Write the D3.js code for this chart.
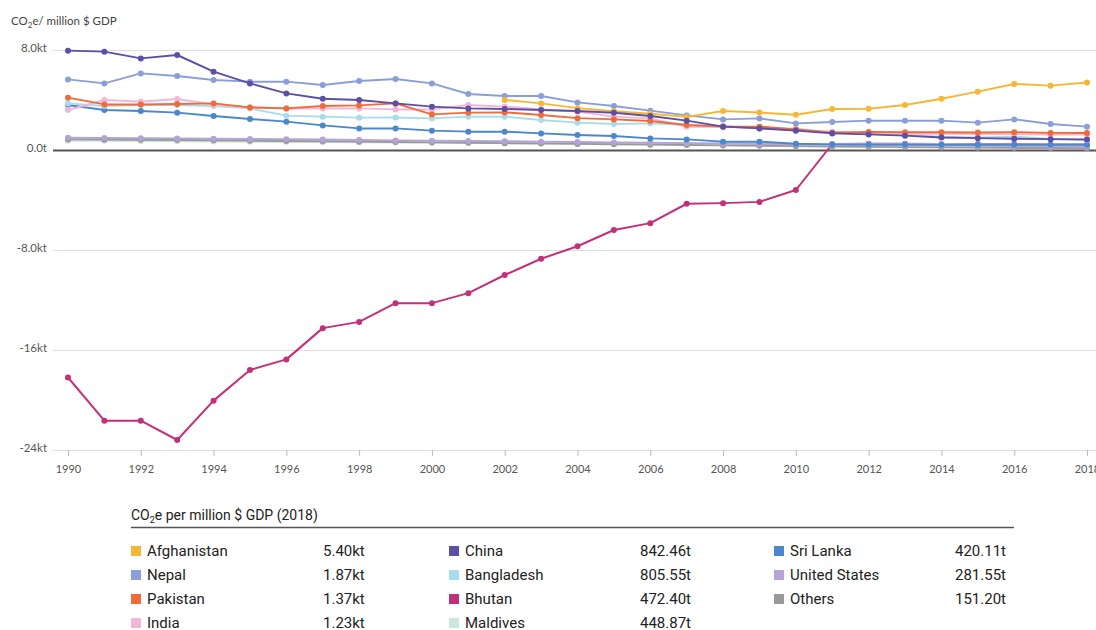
<!DOCTYPE html>
<html><head><meta charset="utf-8">
<script src="https://cdn.jsdelivr.net/npm/d3@7"></script>
<style>
html,body{margin:0;padding:0;background:#fff;}
svg{display:block;}
</style></head>
<body>
<svg id="chart" width="1096" height="630"></svg>
<script>
const years = d3.range(1990, 2019);
const yTicks = [8, 0, -8, -16, -24];
const yTickLabels = ["8.0kt", "0.0t", "-8.0kt", "-16kt", "-24kt"];
const xTicks = d3.range(1990, 2019, 2);

const countries = ["Afghanistan","Nepal","Pakistan","India","China","Bangladesh","Bhutan","Maldives","Sri Lanka","United States","Others"];
const colors = ["#f5b836","#8a9fd8","#ef6b3a","#f2b6d6","#5e4fa6","#a9dceb","#c2307a","#c9e7da","#4a87cb","#b3a3d7","#999999"];
const legendValues = ["5.40kt","1.87kt","1.37kt","1.23kt","842.46t","805.55t","472.40t","448.87t","420.11t","281.55t","151.20t"];

const afghanistan = [null,null,null,null,null,null,null,null,null,null,null,null,4.0,3.73,3.35,3.1,2.9,2.65,3.12,3.0,2.82,3.28,3.3,3.6,4.1,4.67,5.28,5.15,5.4];
const nepal = [5.65,5.33,6.13,5.92,5.6,5.47,5.47,5.2,5.52,5.68,5.33,4.48,4.32,4.32,3.81,3.52,3.15,2.77,2.45,2.53,2.13,2.24,2.35,2.35,2.35,2.19,2.45,2.08,1.87];
const pakistan = [4.19,3.65,3.65,3.68,3.73,3.41,3.33,3.52,3.57,3.73,2.85,2.99,3.01,2.8,2.55,2.45,2.32,2.0,1.87,1.87,1.65,1.39,1.45,1.42,1.42,1.4,1.42,1.37,1.37];
const india = [3.2,4.0,3.87,4.08,3.65,3.41,3.33,3.33,3.33,3.25,3.25,3.6,3.47,3.25,3.07,2.67,2.53,1.87,1.87,1.73,1.6,1.47,1.35,1.3,1.3,1.28,1.25,1.25,1.23];
const china = [7.95,7.87,7.33,7.6,6.27,5.33,4.53,4.1,4.0,3.73,3.47,3.33,3.28,3.2,3.12,2.98,2.72,2.35,1.87,1.73,1.55,1.33,1.25,1.15,1.0,0.95,0.9,0.87,0.84];
const bangladesh = [3.73,3.52,3.6,3.6,3.52,3.33,2.75,2.67,2.59,2.6,2.53,2.67,2.67,2.4,2.19,2.08,2.13,2.0,1.92,1.73,1.73,1.39,1.28,1.2,1.07,1.01,1.07,0.88,0.81];
const bhutan = [-18.2,-21.65,-21.65,-23.2,-20.05,-17.6,-16.75,-14.25,-13.75,-12.25,-12.25,-11.45,-10.0,-8.7,-7.7,-6.4,-5.85,-4.3,-4.25,-4.15,-3.2,0.48,0.5,0.5,0.49,0.48,0.48,0.47,0.47];
const maldives = [0.75,0.74,0.72,0.7,0.68,0.66,0.65,0.63,0.62,0.6,0.6,0.58,0.57,0.56,0.55,0.54,0.53,0.52,0.5,0.5,0.48,0.47,0.47,0.46,0.46,0.45,0.45,0.45,0.45];
const sriLanka = [3.6,3.2,3.12,2.99,2.72,2.48,2.27,1.97,1.73,1.73,1.55,1.47,1.47,1.33,1.2,1.12,0.93,0.85,0.67,0.67,0.5,0.45,0.45,0.44,0.43,0.43,0.43,0.42,0.42];
const unitedStates = [0.98,0.96,0.95,0.93,0.9,0.88,0.86,0.84,0.8,0.77,0.75,0.72,0.7,0.67,0.64,0.61,0.58,0.55,0.52,0.48,0.45,0.42,0.39,0.37,0.35,0.33,0.31,0.29,0.28];
const others = [0.85,0.83,0.82,0.8,0.78,0.75,0.72,0.7,0.67,0.64,0.61,0.58,0.55,0.52,0.49,0.46,0.43,0.4,0.37,0.34,0.31,0.28,0.25,0.23,0.21,0.19,0.17,0.16,0.15];

const seriesValues = [afghanistan,nepal,pakistan,india,china,bangladesh,bhutan,maldives,sriLanka,unitedStates,others];
const drawOrder = [6,7,10,9,8,5,3,2,1,0,4];

const svg = d3.select("#chart");
const x = d3.scaleLinear().domain([1990, 2018]).range([68, 1087]);
const y = d3.scaleLinear().domain([-24, 8]).range([450, 50]);

// axis title
const t = svg.append("text").attr("x", 11).attr("y", 25)
  .style("font-family", "Lato, sans-serif").style("font-size", "11.5px").style("fill", "#444");
t.append("tspan").text("CO");
t.append("tspan").text("2").attr("dy", 3).style("font-size", "8px");
t.append("tspan").text("e/ million $ GDP").attr("dy", -3);

// gridlines
const yAxis = d3.axisLeft(y).tickValues(yTicks).tickSize(-(1096 - 53))
  .tickFormat((d, i) => yTickLabels[i]);
const gy = svg.append("g").attr("transform", "translate(53,0)").call(yAxis);
gy.select(".domain").remove();
gy.selectAll(".tick line").attr("stroke", d => d === 0 ? "#555" : "#e6dada")
  .attr("stroke-width", d => d === 0 ? 2 : 1);
gy.selectAll(".tick text").attr("x", -6).attr("text-anchor", "end").attr("dy", "0.1em")
  .style("font-family", "Lato, sans-serif").style("font-size", "11.5px").style("fill", "#555");

// x axis
const xAxis = d3.axisBottom(x).tickValues(xTicks).tickFormat(d3.format("d")).tickSize(6).tickPadding(9);
const gx = svg.append("g").attr("transform", "translate(0,450)").call(xAxis);
gx.select(".domain").remove();
gx.selectAll(".tick line").attr("stroke", "#bbb");
gx.selectAll(".tick text").style("font-family", "Lato, sans-serif").style("font-size", "11px").style("fill", "#555");

// lines
const line = d3.line().defined(d => d.v !== null).x(d => x(d.year)).y(d => y(d.v));
drawOrder.forEach(i => {
  const data = years.map((yr, j) => ({year: yr, v: seriesValues[i][j]}));
  const g = svg.append("g");
  g.append("path").datum(data).attr("d", line).attr("fill", "none")
    .attr("stroke", colors[i]).attr("stroke-width", 2).attr("stroke-linejoin", "round");
  g.selectAll("circle").data(data.filter(d => d.v !== null)).join("circle")
    .attr("cx", d => x(d.year)).attr("cy", d => y(d.v)).attr("r", 3).attr("fill", colors[i]);
});

// legend
const lg = svg.append("g").style("font-family", "Roboto, sans-serif").style("fill", "#222");
const lt = lg.append("text").attr("x", 131).attr("y", 520).style("font-size", "14px");
lt.append("tspan").text("CO");
lt.append("tspan").text("2").attr("dy", 3).style("font-size", "9px");
lt.append("tspan").text("e per million $ GDP (2018)").attr("dy", -3);
lg.append("line").attr("x1", 131).attr("x2", 1014).attr("y1", 527.5).attr("y2", 527.5)
  .attr("stroke", "#555").attr("stroke-width", 1.5);
const colX = [[131, 323], [449, 640], [774, 955]];
countries.forEach((c, i) => {
  const col = Math.floor(i / 4), row = i % 4;
  const yy = 551 + row * 24;
  const [sx, vx] = colX[col];
  lg.append("rect").attr("x", sx).attr("y", yy - 5).attr("width", 10).attr("height", 10).attr("fill", colors[i]);
  lg.append("text").attr("x", sx + 16).attr("y", yy).attr("dy", "0.35em").style("font-size", "15px").text(c);
  lg.append("text").attr("x", vx).attr("y", yy).attr("dy", "0.35em").style("font-size", "15px").text(legendValues[i]);
});
</script>
</body></html>
